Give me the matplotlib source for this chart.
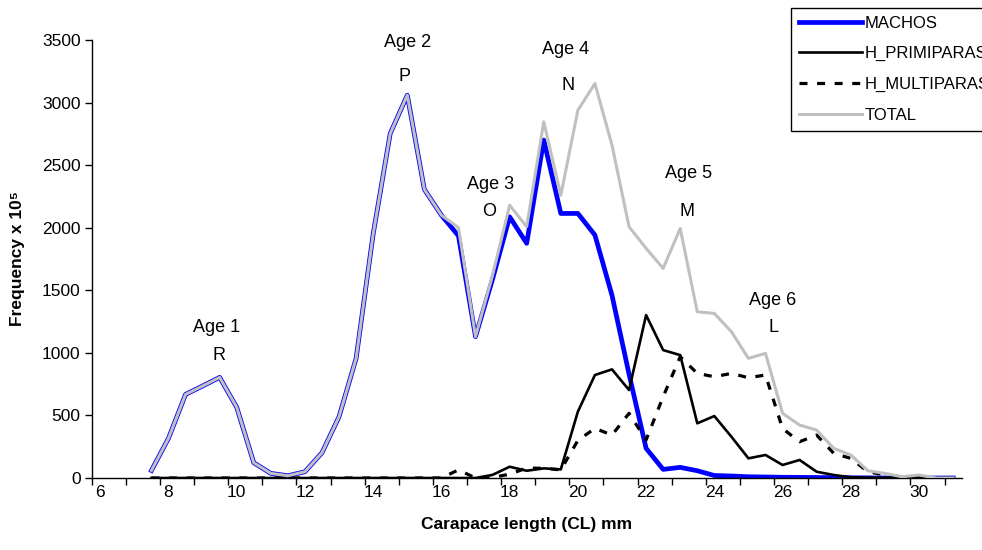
import numpy as np
import matplotlib
matplotlib.use("Agg")
import matplotlib.pyplot as plt

plt.rcParams['font.family'] = ['Liberation Sans', 'DejaVu Sans']

# carapace length classes (mm) that carry data
cl_mm = [7.5, 8, 8.5, 9, 9.5, 10, 10.5, 11, 11.5, 12, 12.5, 13, 13.5, 14, 14.5,
         15, 15.5, 16, 16.5, 17, 17.5, 18, 18.5, 19, 19.5, 20, 20.5, 21, 21.5,
         22, 22.5, 23, 23.5, 24, 24.5, 25, 25.5, 26, 26.5, 27, 27.5, 28, 28.5,
         29, 29.5, 30, 30.5, 31]

machos = [60, 317, 668, 735, 804, 565, 122, 37, 18, 50, 202, 490, 956, 1950, 2753,
          3059, 2306, 2100, 1935, 1130, 1590, 2087, 1875, 2700, 2114, 2114, 1941, 1460, 830,
          237, 69, 85, 58, 20, 16, 10, 8, 6, 5, 4, 3, 2, 1,
          0, 0, 0, 0, 0]

h_primiparas = [0, 0, 0, 0, 0, 0, 0, 0, 0, 0, 0, 0, 0, 0, 0,
                0, 0, 0, 0, 0, 25, 90, 58, 77, 69, 530, 823, 868, 703,
                1302, 1022, 982, 437, 495, 330, 157, 184, 104, 144, 50, 24, 6, 3,
                2, 5, 8, 0, 0]

h_multiparas = [0, 0, 0, 0, 0, 0, 0, 0, 0, 0, 0, 0, 0, 0, 0,
                0, 0, 0, 65, 0, 5, 30, 80, 77, 65, 300, 397, 343, 517,
                304, 650, 969, 836, 809, 836, 801, 823, 395, 290, 343, 197, 157, 50,
                25, 10, 5, 0, 0]

total = [60, 317, 668, 735, 804, 565, 122, 37, 18, 50, 202, 490, 956, 1950, 2753,
         3059, 2306, 2100, 2000, 1130, 1620, 2180, 2008, 2846, 2260, 2939, 3152, 2660, 2008,
         1835, 1675, 1994, 1328, 1315, 1169, 956, 996, 517, 423, 383, 237, 184, 58,
         37, 10, 24, 0, 0]

# age labels (x in mm, y in frequency units)
age_text = ["Age 1", "Age 2", "Age 3", "Age 4", "Age 5", "Age 6"]
age_letter = ["R", "P", "O", "N", "M", "L"]
age_x = [9.4, 15.0, 17.45, 19.65, 23.25, 25.72]
age_y = [1205, 3480, 2345, 3425, 2430, 1420]
letter_x = [9.47, 14.92, 17.4, 19.72, 23.2, 25.72]
letter_y = [980, 3205, 2130, 3140, 2130, 1200]

x_labels = [6, 8, 10, 12, 14, 16, 18, 20, 22, 24, 26, 28, 30]

fig = plt.figure(figsize=(9.82, 5.5), dpi=100)
ax = fig.add_axes([0.0934, 0.1309, 0.8859, 0.7964])

ax.plot(cl_mm, machos, color='#0000ff', lw=3.4, label='MACHOS', zorder=2)
ax.plot(cl_mm, h_primiparas, color='black', lw=1.9, label='H_PRIMIPARAS', zorder=3)
ax.plot(cl_mm, h_multiparas, color='black', lw=2.3, ls=(0, (2.5, 3)), label='H_MULTIPARAS', zorder=3)
ax.plot(cl_mm, total, color='#c0c0c0', lw=2.2, label='TOTAL', zorder=4)

for t, l, tx, ty, lx, ly in zip(age_text, age_letter, age_x, age_y, letter_x, letter_y):
    ax.text(tx, ty, t, ha='center', va='center', fontsize=13)
    ax.text(lx, ly, l, ha='center', va='center', fontsize=13)

ax.set_xlim(5.75, 31.25)
ax.set_ylim(0, 3500)
ax.set_yticks(np.arange(0, 3501, 500))

# category style axis: ticks between classes, labels on classes
ax.set_xticks(np.arange(5.75, 31.0, 1.0))
ax.set_xticklabels([])
ax.set_xticks(x_labels, minor=True)
ax.set_xticklabels([str(v) for v in x_labels], minor=True)
ax.tick_params(axis='x', which='major', direction='out', length=5, width=1)
ax.tick_params(axis='x', which='minor', length=0, pad=5, labelsize=12.5)
ax.tick_params(axis='y', direction='out', length=5, width=1, labelsize=12.5, pad=3)

for s in ['top', 'right']:
    ax.spines[s].set_visible(False)
for s in ['left', 'bottom']:
    ax.spines[s].set_linewidth(1)

ax.set_xlabel('Carapace length (CL) mm', fontsize=12.5, fontweight='bold', labelpad=12)
ax.set_ylabel('Frequency x 10\u2075', fontsize=12.5, fontweight='bold', labelpad=12)

leg = fig.legend(loc='upper left', bbox_to_anchor=(791 / 982, 1 - 8 / 550),
                 fontsize=12, frameon=True, fancybox=False, borderaxespad=0,
                 handlelength=3.8, handletextpad=0.15, labelspacing=0.95,
                 borderpad=0.45)
leg.get_frame().set_edgecolor('black')
leg.get_frame().set_linewidth(1)
leg.get_frame().set_alpha(1)

fig.savefig('out.png', dpi=100)
